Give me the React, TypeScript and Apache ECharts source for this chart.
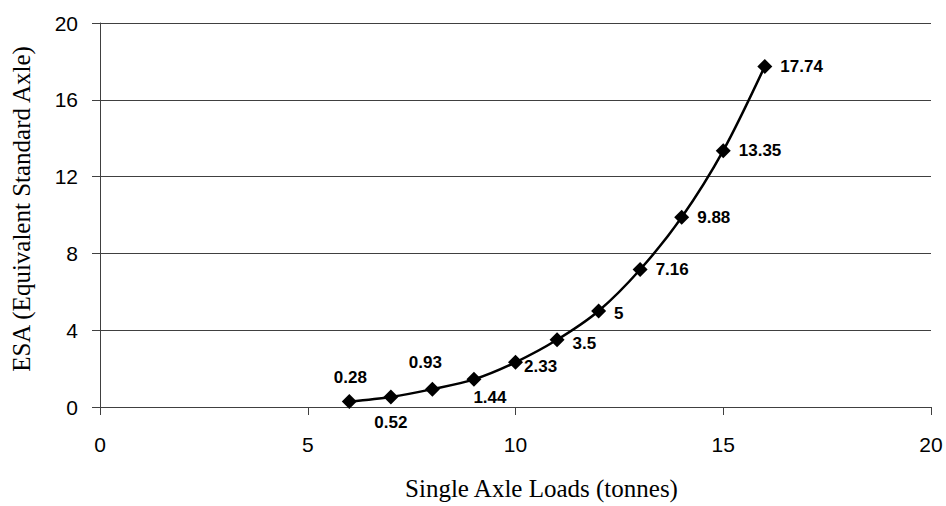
import React, { useEffect, useRef } from "react";
import * as echarts from "echarts";

// Single axle loads (tonnes) and the matching ESA values
const axleLoads = [6, 7, 8, 9, 10, 11, 12, 13, 14, 15, 16];
const esaValues = [0.28, 0.52, 0.93, 1.44, 2.33, 3.5, 5, 7.16, 9.88, 13.35, 17.74];
// where each value label sits relative to its marker
const labelPositions = ["top", "bottom", "top", "bottom", "right", "right", "right", "right", "right", "right", "right"];
const labelOffsets: [number, number][] = [
  [1, 0], [0, 1], [-7, -3], [16, -6], [-7, 4], [0, 4], [0, 2], [0, 0], [0, 0], [0, 0], [0, 0],
];

const xTitle = "Single Axle Loads (tonnes)";
const yTitle = "ESA (Equivalent Standard Axle)";

export default function App() {
  const ref = useRef<HTMLDivElement>(null);

  useEffect(() => {
    if (!ref.current) return;
    const chart = echarts.init(ref.current, null, { renderer: "svg" });

    const data = axleLoads.map((x, i) => ({
      value: [x, esaValues[i]],
      label: {
        position: labelPositions[i] as any,
        offset: labelOffsets[i],
      },
    }));

    chart.setOption({
      animation: false,
      backgroundColor: "#ffffff",
      grid: { left: 100, right: 15, top: 23, bottom: 99, containLabel: false },
      xAxis: {
        type: "value",
        min: 0,
        max: 20,
        interval: 5,
        name: xTitle,
        nameLocation: "middle",
        nameGap: 69,
        nameTextStyle: {
          fontFamily: "Liberation Serif",
          fontSize: 25,
          color: "#000",
          padding: [0, 0, 0, 52],
        },
        axisLine: { show: true, onZero: false, lineStyle: { color: "#404040", width: 1 } },
        axisTick: { show: true, inside: false, length: 8, lineStyle: { color: "#404040" } },
        axisLabel: { fontFamily: "Liberation Sans", fontSize: 21, color: "#000", margin: 27 },
        splitLine: { show: false },
      },
      yAxis: {
        type: "value",
        min: 0,
        max: 20,
        interval: 4,
        name: yTitle,
        nameLocation: "middle",
        nameGap: 66,
        nameRotate: 90,
        nameTextStyle: {
          fontFamily: "Liberation Serif",
          fontSize: 25,
          color: "#000",
          padding: [0, 0, 0, 12],
        },
        axisLine: { show: true, lineStyle: { color: "#404040", width: 1 } },
        axisTick: { show: true, inside: false, length: 8, lineStyle: { color: "#404040" } },
        axisLabel: { fontFamily: "Liberation Sans", fontSize: 21, color: "#000", margin: 22 },
        splitLine: { show: true, lineStyle: { color: "#404040", width: 1 } },
      },
      series: [
        {
          type: "line",
          data,
          smooth: 0.3,
          symbol: "diamond",
          symbolSize: 15,
          itemStyle: { color: "#000" },
          lineStyle: { color: "#000", width: 2.5 },
          label: {
            show: true,
            distance: 8,
            fontFamily: "Liberation Sans",
            fontWeight: "bold",
            fontSize: 17,
            color: "#000",
            formatter: (p: any) => String(p.value[1]),
          },
        },
      ],
    });

    return () => chart.dispose();
  }, []);

  return <div ref={ref} style={{ width: 946, height: 506, position: "absolute", left: 0, top: 0 }} />;
}
